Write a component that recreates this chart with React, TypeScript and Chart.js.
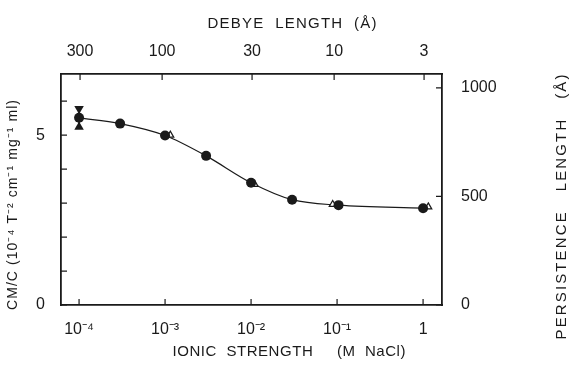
import React, { useEffect, useRef } from "react";
import { Chart, registerables } from "chart.js";

Chart.register(...registerables);

// Ionic strength (M NaCl) vs CM/C
const ionicCircles = [1e-4, 3e-4, 1e-3, 3e-3, 1e-2, 3e-2, 0.104, 1];
const cmcCircles = [5.51, 5.34, 4.99, 4.39, 3.6, 3.1, 2.94, 2.85];
const ionicTriangles = [1.15e-3, 1.1e-2, 0.089, 1.15];
const cmcTriangles = [5.0, 3.55, 2.96, 2.89];
const errorX = [1e-4, 1e-4];
const errorY = [5.78, 5.24];

const bottomTicks = [1e-4, 1e-3, 1e-2, 1e-1, 1];
const bottomLabels = ["10\u207B\u2074", "10\u207B\u00B3", "10\u207B\u00B2", "10\u207B\u00B9", "1"];
const debyeTicks = [300, 100, 30, 10, 3];
const leftTicks = [0, 1, 2, 3, 4, 5, 6];
const leftLabeled = [0, 5];
const rightTicks = [0, 500, 1000];

const X_MIN = Math.pow(10, -4.21);
const X_MAX = Math.pow(10, 0.22);
const Y_MAX = 6.8;
const Y2_MAX = 1064;

const debyeToIonic = (d: number) => Math.pow(3.04 / d, 2);

const INK = "#1a1a1a";
const FONT = "'Liberation Sans', Arial, sans-serif";

const inwardTicks = {
  id: "inwardTicks",
  afterDraw(chart: any) {
    const { ctx, chartArea } = chart;
    const len = 6;
    ctx.save();
    ctx.strokeStyle = INK;
    ctx.lineWidth = 1.2;
    const sx = chart.scales.x;
    const sx2 = chart.scales.x2;
    const sy = chart.scales.y;
    const sy2 = chart.scales.y2;
    ctx.beginPath();
    bottomTicks.forEach((v) => {
      const p = sx.getPixelForValue(v);
      ctx.moveTo(p, chartArea.bottom);
      ctx.lineTo(p, chartArea.bottom - len);
    });
    debyeTicks.forEach((d) => {
      const p = sx2.getPixelForValue(debyeToIonic(d));
      ctx.moveTo(p, chartArea.top);
      ctx.lineTo(p, chartArea.top + len);
    });
    leftTicks.forEach((v) => {
      const p = sy.getPixelForValue(v);
      ctx.moveTo(chartArea.left, p);
      ctx.lineTo(chartArea.left + len, p);
    });
    rightTicks.forEach((v) => {
      const p = sy2.getPixelForValue(v);
      ctx.moveTo(chartArea.right, p);
      ctx.lineTo(chartArea.right - len, p);
    });
    ctx.stroke();
    ctx.restore();
  },
};

function drawSpaced(ctx: any, text: string, cx: number, cy: number, width: number, rotate: boolean) {
  const chars = Array.from(text);
  const widths = chars.map((c) => ctx.measureText(c).width);
  const natural = widths.reduce((a, b) => a + b, 0);
  const gap = chars.length > 1 ? (width - natural) / (chars.length - 1) : 0;
  ctx.save();
  ctx.translate(cx, cy);
  if (rotate) ctx.rotate(-Math.PI / 2);
  ctx.textAlign = "left";
  ctx.textBaseline = "middle";
  let x = -width / 2;
  chars.forEach((c, i) => {
    ctx.fillText(c, x, 0);
    x += widths[i] + gap;
  });
  ctx.restore();
}

const titles = {
  id: "titles",
  afterDraw(chart: any) {
    const { ctx } = chart;
    ctx.save();
    ctx.fillStyle = INK;
    ctx.font = `15px ${FONT}`;
    drawSpaced(ctx, "DEBYE  LENGTH  (\u00C5)", 292, 24, 169, false);
    drawSpaced(ctx, "IONIC  STRENGTH     (M  NaCl)", 289, 352, 233, false);
    drawSpaced(ctx, "PERSISTENCE   LENGTH   (\u00C5)", 562, 207, 265, true);
    ctx.font = `14px ${FONT}`;
    drawSpaced(ctx, "CM/C (10\u207B\u2074 T\u207B\u00B2 cm\u207B\u00B9 mg\u207B\u00B9 ml)", 13, 205, 210, true);
    ctx.restore();
  },
};

export default function App() {
  const ref = useRef<HTMLCanvasElement | null>(null);
  useEffect(() => {
    if (!ref.current) return;
    const tickFont = { family: FONT, size: 16 };
    const chart = new Chart(ref.current, {
      type: "scatter",
      data: {
        datasets: [
          {
            label: "error",
            data: errorX.map((x, i) => ({ x, y: errorY[i] })),
            showLine: true,
            borderColor: INK,
            borderWidth: 1.5,
            backgroundColor: INK,
            pointStyle: "triangle",
            pointRadius: 5.5,
            pointRotation: [180, 0],
            pointBorderWidth: 0,
          },
          {
            label: "circles",
            data: ionicCircles.map((x, i) => ({ x, y: cmcCircles[i] })),
            backgroundColor: INK,
            borderColor: INK,
            pointStyle: "circle",
            pointRadius: 5,
            pointBorderWidth: 0,
          },
          {
            label: "triangles",
            data: ionicTriangles.map((x, i) => ({ x, y: cmcTriangles[i] })),
            backgroundColor: "#ffffff",
            borderColor: INK,
            pointStyle: "triangle",
            pointRadius: 4,
            pointBorderWidth: 1.2,
          },
          {
            label: "curve",
            data: ionicCircles.map((x, i) => ({ x, y: cmcCircles[i] })),
            showLine: true,
            borderColor: INK,
            borderWidth: 1.2,
            pointRadius: 0,
            cubicInterpolationMode: "monotone",
          },
        ],
      },
      options: {
        animation: false,
        responsive: false,
        layout: { padding: 0 },
        plugins: {
          legend: { display: false },
          tooltip: { enabled: false },
        },
        scales: {
          x: {
            type: "logarithmic",
            position: "bottom",
            min: X_MIN,
            max: X_MAX,
            grid: { display: false },
            border: { display: true, color: INK, width: 1.8 },
            afterBuildTicks: (s: any) => {
              s.ticks = bottomTicks.map((v) => ({ value: v }));
            },
            afterFit: (s: any) => {
              s.height = 64;
            },
            ticks: {
              autoSkip: false,
              maxRotation: 0,
              padding: 7,
              color: INK,
              font: tickFont,
              callback: (v: any) => {
                const i = bottomTicks.findIndex((t) => Math.abs(t - v) / t < 1e-6);
                return i >= 0 ? bottomLabels[i] : "";
              },
            },
          },
          x2: {
            type: "logarithmic",
            axis: "x",
            position: "top",
            min: X_MIN,
            max: X_MAX,
            grid: { display: false },
            border: { display: true, color: INK, width: 1.8 },
            afterBuildTicks: (s: any) => {
              s.ticks = debyeTicks.map((d) => ({ value: debyeToIonic(d) }));
            },
            afterFit: (s: any) => {
              s.height = 74;
            },
            ticks: {
              autoSkip: false,
              maxRotation: 0,
              padding: 5,
              color: INK,
              font: tickFont,
              callback: (_v: any, i: number) => String(debyeTicks[i]),
            },
          },
          y: {
            type: "linear",
            position: "left",
            min: 0,
            max: Y_MAX,
            grid: { display: false },
            border: { display: true, color: INK, width: 1.8 },
            afterBuildTicks: (s: any) => {
              s.ticks = leftTicks.map((v) => ({ value: v }));
            },
            afterFit: (s: any) => {
              s.width = 61;
            },
            ticks: {
              autoSkip: false,
              padding: 8,
              color: INK,
              font: tickFont,
              callback: (v: any) => (leftLabeled.includes(Number(v)) ? String(v) : ""),
            },
          },
          y2: {
            type: "linear",
            position: "right",
            min: 0,
            max: Y2_MAX,
            grid: { display: false },
            border: { display: true, color: INK, width: 1.8 },
            afterBuildTicks: (s: any) => {
              s.ticks = rightTicks.map((v) => ({ value: v }));
            },
            afterFit: (s: any) => {
              s.width = 138;
            },
            ticks: {
              autoSkip: false,
              padding: 11,
              color: INK,
              font: tickFont,
              callback: (v: any) => String(v),
            },
          },
        },
      },
      plugins: [inwardTicks, titles],
    } as any);
    return () => chart.destroy();
  }, []);
  return (
    <div style={{ position: "fixed", left: 0, top: 0, width: 580, height: 369, background: "#fff" }}>
      <canvas ref={ref} width={580} height={369} style={{ display: "block" }} />
    </div>
  );
}
